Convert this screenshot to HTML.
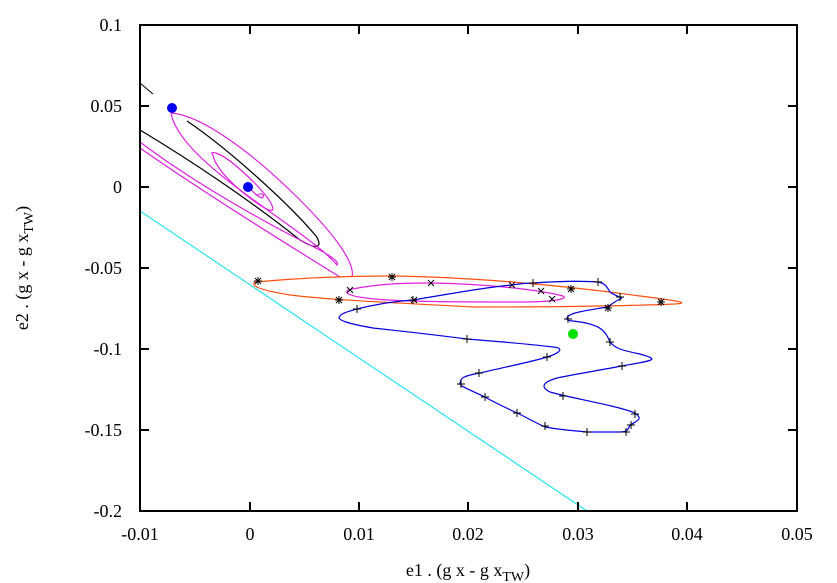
<!DOCTYPE html>
<html><head><meta charset="utf-8"><style>
html,body{margin:0;padding:0;background:#fff;}
svg{display:block;font-family:"Liberation Serif",serif;}
</style></head><body>
<svg width="837" height="583" viewBox="0 0 837 583" xmlns="http://www.w3.org/2000/svg">
<defs>
<g id="pl"><path d="M-4 0H4M0 -4V4" stroke="#000" stroke-width="1"/></g>
<g id="cr"><path d="M-3 -3L3 3M-3 3L3 -3" stroke="#000" stroke-width="1"/></g>
<g id="st"><path d="M-4 0H4M0 -4V4M-3 -3L3 3M-3 3L3 -3" stroke="#000" stroke-width="1"/></g>
</defs>
<line x1="140" y1="211" x2="587" y2="511" stroke="#00e0f0" stroke-width="1"/>
<path d="M140 83 L153 94" stroke="#000" fill="none"/>
<path d="M140 130 C190 160 250 200 300 240 C320 252 322 245 316 236 C290 205 230 150 187 121" stroke="#000" fill="none" stroke-width="1.2"/>
<path d="M171 113 C200 115 250 150 300 200 C340 240 355 265 352 277" stroke="#e020e0" fill="none" stroke-width="1.2"/>
<path d="M171 113 C175 135 200 160 240 190 C280 220 320 245 337 265 C340 262 330 255 310 245 C260 220 190 180 140 142" stroke="#e020e0" fill="none" stroke-width="1.2"/>
<path d="M140 148 C200 190 280 240 340 277" stroke="#e020e0" fill="none" stroke-width="1.2"/>
<path d="M257 195 C262 192 266 196 262 198 C256 196 248 188 252 186 M213 155 C208 150 220 152 235 165 C255 182 272 200 273 209 C272 214 258 205 240 190 C222 175 214 162 213 155 Z" stroke="#e020e0" fill="none" stroke-width="1.2"/>
<path d="M255 282 C300 278 340 276 392 276 C470 277 560 285 640 296 C680 301 690 303 675 304 C600 307 520 307 473 307 C400 303 330 300 290 295 C260 290 250 286 255 282 Z" stroke="#ff5010" fill="none" stroke-width="1.2"/>
<path d="M348 290 C380 283 410 283 431 283 C490 284 540 290 563 296 C570 299 550 302 523 302 C480 302 440 302 413 301 C370 300 340 296 348 290 Z" stroke="#e020e0" fill="none" stroke-width="1.2"/>
<path d="M357 309 C380 303 400 301 413 300 C460 292 490 287 512 285 C525 283 530 283 533 283 C560 281 585 281 598 282 C605 283 607 287 610 292 C615 296 625 298 620 299 C612 303 610 306 607 307 C590 310 575 312 570 315 C565 318 566 321 573 321 C600 324 605 330 610 342 C615 348 620 350 640 354 C660 360 655 360 622 366 C590 372 565 376 557 378 C540 383 542 388 550 392 C570 398 615 405 635 413 C642 418 640 420 630 425 C628 430 627 432 620 432 L587 432 C565 430 550 428 545 427 C530 420 522 415 517 413 C500 405 490 400 485 397 C470 390 460 386 460 384 C460 378 463 376 480 373 C510 366 535 361 547 357 C560 353 565 348 553 347 C520 343 490 341 467 339 C420 333 390 330 373 328 C350 324 335 320 340 316 C342 313 350 311 357 309" stroke="#0000e0" fill="none" stroke-width="1.2"/>
<use href="#pl" x="357" y="309"/><use href="#pl" x="467" y="339"/><use href="#pl" x="547" y="357"/>
<use href="#pl" x="479" y="373"/><use href="#pl" x="461" y="384"/><use href="#pl" x="485" y="397"/>
<use href="#pl" x="517" y="413"/><use href="#pl" x="545" y="426"/><use href="#pl" x="587" y="432"/>
<use href="#pl" x="626" y="432"/><use href="#pl" x="631" y="425"/><use href="#pl" x="635" y="414"/>
<use href="#pl" x="563" y="396"/><use href="#pl" x="622" y="366"/><use href="#pl" x="610" y="342"/>
<use href="#pl" x="568" y="319"/><use href="#pl" x="533" y="283"/><use href="#pl" x="598" y="282"/>
<use href="#pl" x="620" y="297"/><use href="#pl" x="413" y="300"/>
<use href="#st" x="258" y="281"/><use href="#st" x="392" y="277"/><use href="#st" x="339" y="300"/>
<use href="#st" x="571" y="289"/><use href="#st" x="661" y="302"/><use href="#st" x="608" y="308"/>
<use href="#cr" x="350" y="290"/><use href="#cr" x="431" y="283"/><use href="#cr" x="512" y="285"/>
<use href="#cr" x="541" y="291"/><use href="#cr" x="552" y="299"/><use href="#cr" x="414" y="300"/>
<circle cx="172" cy="108" r="5" fill="#0000f0"/>
<circle cx="248" cy="187" r="5" fill="#0000f0"/>
<circle cx="573" cy="334" r="5" fill="#00e000"/>
<rect x="140" y="25" width="657" height="486" fill="none" stroke="#000" stroke-width="2"/>
<g stroke="#000" stroke-width="2">
<path d="M140 106h9M140 187h9M140 268h9M140 349h9M140 430h9"/>
<path d="M797 106h-9M797 187h-9M797 268h-9M797 349h-9M797 430h-9"/>
<path d="M250 511v-9M359 511v-9M468 511v-9M578 511v-9M687 511v-9"/>
<path d="M250 25v9M359 25v9M468 25v9M578 25v9M687 25v9"/>
</g>
<g font-size="18" text-anchor="end">
<text x="122" y="31">0.1</text><text x="122" y="112">0.05</text><text x="122" y="193">0</text>
<text x="122" y="274">-0.05</text><text x="122" y="355">-0.1</text><text x="122" y="436">-0.15</text><text x="122" y="517">-0.2</text>
</g>
<g font-size="18" text-anchor="middle">
<text x="140" y="540">-0.01</text><text x="250" y="540">0</text><text x="359" y="540">0.01</text>
<text x="468" y="540">0.02</text><text x="578" y="540">0.03</text><text x="687" y="540">0.04</text><text x="797" y="540">0.05</text>
<text x="468" y="576">e1 . (g x - g x<tspan font-size="14" dy="5">TW</tspan><tspan dy="-5">)</tspan></text>
<text transform="translate(28,268) rotate(-90)">e2 . (g x - g x<tspan font-size="14" dy="5">TW</tspan><tspan dy="-5">)</tspan></text>
</g>
</svg>
</body></html>
